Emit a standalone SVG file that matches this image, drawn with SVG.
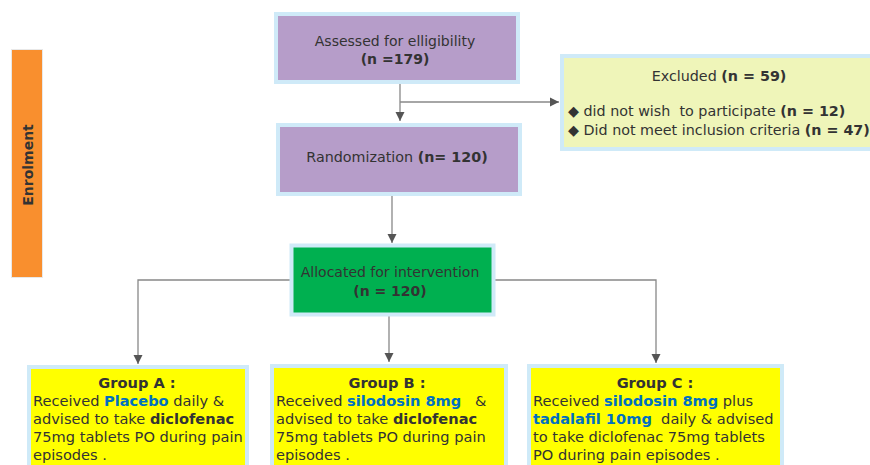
<svg xmlns="http://www.w3.org/2000/svg" width="870" height="465" viewBox="0 0 870 465">
<defs>
<marker id="arr" markerWidth="10" markerHeight="10" refX="9" refY="5" orient="auto" markerUnits="userSpaceOnUse">
<path d="M0,0.5 L9,5 L0,9.5 z" fill="#555"/>
</marker>
<style>
text{font-family:"DejaVu Sans",Verdana,sans-serif;fill:#333;font-size:14px;white-space:pre}
.b{font-weight:bold}
.blue{fill:#0070C0;font-weight:bold}
.box{stroke:#CFEAF8;stroke-width:4}
.purple{fill:#B69DC9}
.yel{fill:#FFFF00}
.con{fill:none;stroke:#888;stroke-width:1.3}
.g{font-size:14.6px}
.x{font-size:14.3px}
</style>
</defs>
<rect width="870" height="465" fill="#fff"/>
<g id="enrolment">
<rect x="11.5" y="49.5" width="31" height="228" fill="#F98F2E" stroke="#E8E8E8" stroke-width="1"/>
<text class="b" transform="translate(33,165) rotate(-90)" text-anchor="middle" font-size="12.5">Enrolment</text>
</g>
<g id="connectors">
<path class="con" d="M400,84 V121" marker-end="url(#arr)"/>
<path class="con" d="M400,102 H559" marker-end="url(#arr)"/>
<path class="con" d="M392,196 V243" marker-end="url(#arr)"/>
<path class="con" d="M291,280 H138 V364" marker-end="url(#arr)"/>
<path class="con" d="M494,280 H656 V363" marker-end="url(#arr)"/>
<path class="con" d="M389,316 V362" marker-end="url(#arr)"/>
</g>
<g id="assessed">
<rect class="box purple" x="276" y="14" width="242" height="68"/>
<text x="395" y="46" text-anchor="middle">Assessed for elligibility</text>
<text x="395" y="64" text-anchor="middle" class="b">(n =179)</text>
</g>
<g id="excluded">
<rect class="box" x="562" y="56" width="320" height="93" fill="#EFF5B9"/>
<text x="719" y="81" text-anchor="middle" class="x">Excluded <tspan class="b">(n = 59)</tspan></text>
<text x="568" y="116" class="x">◆ did not wish  to participate <tspan class="b">(n = 12)</tspan></text>
<text x="568" y="135" class="x">◆ Did not meet inclusion criteria <tspan class="b">(n = 47)</tspan></text>
</g>
<g id="randomization">
<rect class="box purple" x="278" y="125" width="242" height="69"/>
<text x="397" y="162" text-anchor="middle" class="x">Randomization <tspan class="b">(n= 120)</tspan></text>
</g>
<g id="allocated">
<rect class="box" x="291.5" y="245.5" width="202" height="69" fill="#00B050"/>
<text x="390" y="277" text-anchor="middle">Allocated for intervention</text>
<text x="390" y="296" text-anchor="middle" class="b">(n = 120)</text>
</g>
<g id="groupA">
<rect class="box yel" x="29" y="367" width="218" height="110"/>
<text x="137" y="388" text-anchor="middle" class="b g">Group A :</text>
<text x="33" y="406" class="g">Received <tspan class="blue">Placebo</tspan> daily &amp;</text>
<text x="33" y="424" class="g">advised to take <tspan class="b">diclofenac</tspan></text>
<text x="33" y="442" class="g">75mg tablets PO during pain</text>
<text x="33" y="460" class="g">episodes .</text>
</g>
<g id="groupB">
<rect class="box yel" x="272" y="366" width="234" height="110"/>
<text x="387" y="388" text-anchor="middle" class="b g">Group B :</text>
<text x="276" y="406" class="g">Received <tspan class="blue">silodosin 8mg</tspan>   &amp;</text>
<text x="276" y="424" class="g">advised to take <tspan class="b">diclofenac</tspan></text>
<text x="276" y="442" class="g">75mg tablets PO during pain</text>
<text x="276" y="460" class="g">episodes .</text>
</g>
<g id="groupC">
<rect class="box yel" x="529" y="366" width="253" height="110"/>
<text x="655" y="388" text-anchor="middle" class="b g">Group C :</text>
<text x="533" y="406" class="g">Received <tspan class="blue">silodosin 8mg</tspan> plus</text>
<text x="533" y="424" class="g"><tspan class="blue">tadalafil 10mg</tspan>  daily &amp; advised</text>
<text x="533" y="442" class="g">to take diclofenac 75mg tablets</text>
<text x="533" y="460" class="g">PO during pain episodes .</text>
</g>
</svg>
